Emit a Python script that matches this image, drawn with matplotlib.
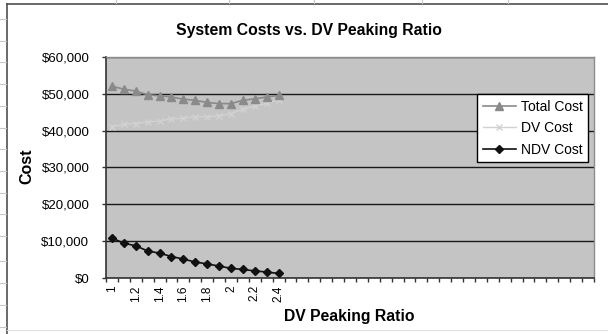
import matplotlib
matplotlib.use('Agg')
import matplotlib.pyplot as plt
from matplotlib.lines import Line2D
from matplotlib.ticker import FuncFormatter, FixedLocator

plt.rcParams['font.family'] = ['Liberation Sans', 'DejaVu Sans']

# categories on the axis: 1.0 .. 5.0 step 0.1, only first 15 carry data
categories = [f'{1 + i / 10:g}' for i in range(41)]
tick_labels = ['1', '1.2', '1.4', '1.6', '1.8', '2', '2.2', '2.4']
tick_pos = [0, 2, 4, 6, 8, 10, 12, 14]

total_cost = [52000, 51200, 50700, 49700, 49400, 49100, 48500, 48200,
              47600, 47300, 47300, 48200, 48600, 49100, 49500]
ndv_cost = [10900, 9500, 8800, 7400, 6800, 5900, 5200, 4400,
            3900, 3300, 2700, 2400, 2000, 1700, 1300]
dv_cost = [41100, 41700, 41900, 42300, 42600, 43200, 43300, 43800,
           43700, 44000, 44600, 45800, 46600, 47400, 48200]

W, H = 608, 334
fig = plt.figure(figsize=(W / 100, H / 100), dpi=100)
fig.patch.set_facecolor('white')

# chart area border + spreadsheet lines outside it
fig.add_artist(Line2D([7 / W, 7 / W], [0, 1 - 4 / H], color='#505050', lw=1.2))
fig.add_artist(Line2D([7 / W, 1], [1 - 4 / H, 1 - 4 / H], color='#505050', lw=1.2))
fig.add_artist(Line2D([7 / W, 1], [1 - 330 / H, 1 - 330 / H], color='#e0e0e0', lw=0.8))
for yy in [19, 41, 62, 84, 106, 128, 149, 171, 193, 214, 236, 261, 283, 305, 327]:
    fig.add_artist(Line2D([0, 6 / W], [1 - yy / H, 1 - yy / H], color='#c8c8c8', lw=0.8))
for xx in [116, 229, 314, 422, 508]:
    fig.add_artist(Line2D([xx / W, xx / W], [1 - 3 / H, 1], color='#c8c8c8', lw=0.8))

ax = fig.add_axes([106 / W, 1 - 278.3 / H, (594 - 106) / W, (278.3 - 56.7) / H])
ax.set_facecolor('#c4c4c4')

x = list(range(len(total_cost)))
ax.plot(x, total_cost, color='#8a8a8a', lw=1.2, marker='^', ms=6,
        mfc='#8a8a8a', mec='#8a8a8a', label='Total Cost', zorder=4)
ax.plot(x, dv_cost, color='#d2d2d2', lw=1.0, marker='x', ms=4,
        mfc='#d2d2d2', mec='#d2d2d2', label='DV Cost', zorder=3)
ax.plot(x, ndv_cost, color='#111111', lw=1.2, marker='D', ms=4.5,
        mfc='#111111', mec='#111111', label='NDV Cost', zorder=5)

ax.set_xlim(-0.5, len(categories) - 0.5)
ax.set_ylim(0, 60000)
ax.set_yticks(range(0, 60001, 10000))
ax.yaxis.set_major_formatter(FuncFormatter(lambda v, p: f'${v:,.0f}'))
ax.grid(axis='y', color='#1a1a1a', lw=1.0)
ax.set_axisbelow(True)

ax.xaxis.set_major_locator(FixedLocator(tick_pos))
ax.set_xticklabels(tick_labels, rotation=90, fontsize=8.5)
ax.xaxis.set_minor_locator(FixedLocator([i - 0.5 for i in range(len(categories) + 1)]))
ax.tick_params(axis='x', which='major', length=0, pad=5)
ax.tick_params(axis='x', which='minor', length=3, width=1, color='#333333', direction='out')
ax.tick_params(axis='y', length=3, width=1, color='#333333', labelsize=9.5, pad=9)

for s in ['left', 'bottom']:
    ax.spines[s].set_color('#333333')
    ax.spines[s].set_linewidth(1.2)
for s in ['top', 'right']:
    ax.spines[s].set_color('#8c8c8c')
    ax.spines[s].set_linewidth(1.0)

fig.text(309 / W, 1 - 30 / H, 'System Costs vs. DV Peaking Ratio',
         ha='center', va='center', fontsize=11.3, fontweight='bold')
fig.text(349 / W, 1 - 316 / H, 'DV Peaking Ratio',
         ha='center', va='center', fontsize=11.3, fontweight='bold')
fig.text(27 / W, 1 - 166 / H, 'Cost', ha='center', va='center',
         rotation=90, fontsize=11.5, fontweight='bold')

leg = ax.legend(loc='upper left', bbox_to_anchor=((477 - 106) / (594 - 106), (278.3 - 94) / (278.3 - 56.7)),
                fontsize=10, frameon=True, fancybox=False, framealpha=1,
                edgecolor='black', borderpad=0.4, labelspacing=0.55,
                handlelength=2.4, handletextpad=0.35, borderaxespad=0)
leg.get_frame().set_linewidth(1.0)

fig.savefig('out.png', dpi=100)
